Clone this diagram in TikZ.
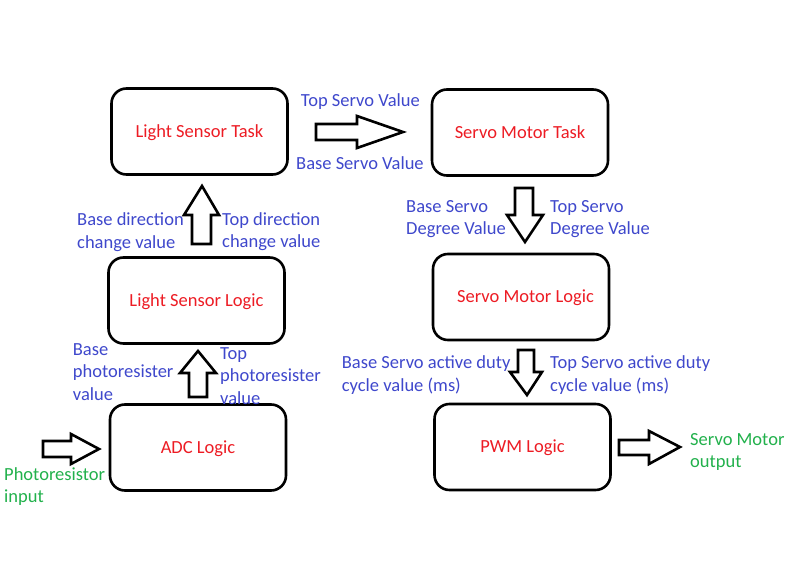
\documentclass[tikz,border=0pt]{standalone}
\usepackage{fontspec}
\setmainfont{Carlito}
\definecolor{pred}{HTML}{ED1C24}
\definecolor{pblue}{HTML}{3F48CC}
\definecolor{pgreen}{HTML}{22B14C}
\begin{document}
\begin{tikzpicture}[x=1pt,y=-1pt,
  every node/.style={font=\fontsize{18.5}{22.5}\selectfont, inner sep=0pt},
  box/.style={draw=black, line width=2.6pt, rounded corners=15pt, text=pred, minimum width=176pt, minimum height=86pt, text depth=1.5pt},
  lbl/.style={text=pblue, align=left, anchor=west, yshift=-2pt},
  glbl/.style={text=pgreen, align=left, anchor=west, yshift=-2pt},
  barrow/.style={draw=black, fill=white, line width=2.6pt, line join=miter}]
\useasboundingbox[fill=white] (0,0) rectangle (800,561);

% boxes
\node[box] (lst) at (199.5,131.5) {Light Sensor Task};
\node[box] (smt) at (520,132.5) {Servo Motor Task};
\node[box] (lsl) at (196.5,300.5) {Light Sensor Logic};
\node[box] (sml) at (521,297) {\hspace*{9pt}Servo Motor Logic};
\node[box] (adc) at (198,447.5) {ADC Logic};
\node[box] (pwm) at (522.5,447) {PWM Logic};

% block arrows
% input -> ADC
\draw[barrow] (43,441) -- (71,441) -- (71,434) -- (99,449) -- (71,464) -- (71,457) -- (43,457) -- cycle;
% ADC -> LSL
\draw[barrow] (189,397) -- (189,373) -- (180,373) -- (198,351) -- (216,373) -- (207,373) -- (207,397) -- cycle;
% LSL -> LST
\draw[barrow] (192,244) -- (192,215) -- (184,215) -- (202,186) -- (219,215) -- (211,215) -- (211,244) -- cycle;
% LST -> SMT
\draw[barrow] (316,124) -- (357,124) -- (357,116) -- (403,132) -- (357,148) -- (357,140) -- (316,140) -- cycle;
% SMT -> SML
\draw[barrow] (515,188) -- (533,188) -- (533,215) -- (543,215) -- (525,242) -- (507,215) -- (515,215) -- cycle;
% SML -> PWM
\draw[barrow] (518,350) -- (534,350) -- (534,372) -- (542,372) -- (527,395) -- (510,372) -- (518,372) -- cycle;
% PWM -> output
\draw[barrow] (619,440) -- (649,440) -- (649,431) -- (680,447) -- (649,464) -- (649,455) -- (619,455) -- cycle;

% labels
\node[lbl] (tsv) at (300.7,100) {Top Servo Value};
\node[lbl] (bsv) at (296,161) {Base Servo Value};
\node[lbl] (bdc) at (77,230) {Base direction\\change value};
\node[lbl] (tdc) at (222,229.5) {Top direction\\change value};
\node[lbl] (bsd) at (406,217) {Base Servo\\Degree Value};
\node[lbl] (tsd) at (550,217) {Top Servo\\Degree Value};
\node[lbl] (bpr) at (72.7,370) {Base\\photoresister\\value};
\node[lbl] (tpr) at (220,374) {Top\\photoresister\\value};
\node[lbl] (bsa) at (341.7,373) {Base Servo active duty\\cycle value (ms)};
\node[lbl] (tsa) at (550,373) {Top Servo active duty\\cycle value (ms)};
\node[glbl] (pin) at (4,484.5) {Photoresistor\\input};
\node[glbl] (smo) at (690,450) {Servo Motor\\output};
\end{tikzpicture}
\end{document}
